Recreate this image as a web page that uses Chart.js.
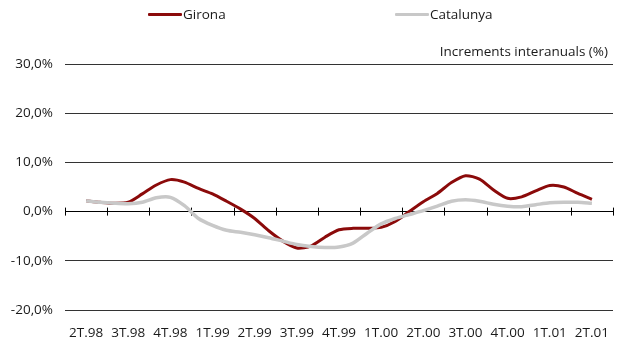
<!DOCTYPE html>
<html>
<head>
<meta charset="utf-8">
<script src="https://cdn.jsdelivr.net/npm/chart.js@4/dist/chart.umd.min.js"></script>
<style>
  body { margin: 0; background: #fff; }
  #wrap { position: relative; width: 625px; height: 340px; font-family: "Open Sans", sans-serif; color: #1a1a1a; }
  canvas { position: absolute; left: 0; top: 0; }
  .key { position: absolute; top: 5px; font-size: 13.5px; line-height: 18px; }
  .key i { position: absolute; top: 8px; height: 3px; width: 34px; border-radius: 1px; }
  .key span { position: absolute; white-space: nowrap; }
  #unit { position: absolute; right: 17px; top: 42px; font-size: 13.5px; line-height: 18px; white-space: nowrap; }
</style>
</head>
<body>
<div id="wrap">
  <canvas id="chart" width="625" height="340"></canvas>
  <div class="key" style="left:148px"><i style="left:0;background:#8b0a0a"></i><span style="left:35px">Girona</span></div>
  <div class="key" style="left:395px"><i style="left:0;background:#c8c8c8"></i><span style="left:35px">Catalunya</span></div>
  <div id="unit">Increments interanuals (%)</div>
</div>
<script>
// Quarter labels on the x axis
const quarters = ["2T.98", "3T.98", "4T.98", "1T.99", "2T.99", "3T.99", "4T.99",
                  "1T.00", "2T.00", "3T.00", "4T.00", "1T.01", "2T.01"];

// Monthly year-on-year growth (%), one value per month from the middle of 2T.98
const girona = [2.2, 1.9, 1.7, 1.9, 3.6, 5.4, 6.5, 6.0, 4.7, 3.6, 2.1, 0.5, -1.4,
                -3.9, -6.0, -7.4, -7.0, -5.2, -3.7, -3.4, -3.4, -3.2, -2.0, 0.0,
                2.0, 3.7, 5.9, 7.3, 6.6, 4.4, 2.7, 3.0, 4.2, 5.3, 5.0, 3.7, 2.5];
const catalunya = [2.2, 1.9, 1.7, 1.6, 1.9, 2.8, 2.9, 1.2, -1.4, -2.8, -3.8, -4.2, -4.7,
                   -5.3, -6.0, -6.7, -7.1, -7.3, -7.2, -6.4, -4.4, -2.5, -1.4, -0.6,
                   0.2, 1.1, 2.1, 2.4, 2.1, 1.5, 1.1, 1.0, 1.4, 1.8, 1.9, 1.9, 1.7];

const yTicks = [-20, -10, 0, 10, 20, 30];

const FONT = { family: "'Open Sans', sans-serif", size: 13.5 };

const toPoints = arr => arr.map((v, i) => ({ x: i, y: v }));

// small tick marks crossing the zero line at each quarter boundary
const zeroTicks = {
  id: "zeroTicks",
  beforeDatasetsDraw(chart) {
    const { ctx, scales: { x, y } } = chart;
    const y0 = y.getPixelForValue(0);
    ctx.save();
    ctx.strokeStyle = "#000";
    ctx.lineWidth = 1;
    for (let q = 0; q <= quarters.length; q++) {
      const px = Math.round(x.getPixelForValue(q * 3 - 1.5)) + 0.5;
      ctx.beginPath();
      ctx.moveTo(px, y0 - 4);
      ctx.lineTo(px, y0 + 4);
      ctx.stroke();
    }
    ctx.restore();
  },
};

new Chart(document.getElementById("chart"), {
  type: "line",
  data: {
    datasets: [
      {
        label: "Girona",
        data: toPoints(girona),
        borderColor: "#8b0a0a",
        borderWidth: 3,
        pointRadius: 0,
        tension: 0.25,
        order: 1,
      },
      {
        label: "Catalunya",
        data: toPoints(catalunya),
        borderColor: "#c8c8c8",
        borderWidth: 3.5,
        pointRadius: 0,
        tension: 0.25,
        order: 0,
      },
    ],
  },
  options: {
    responsive: false,
    animation: false,
    layout: { padding: { top: 64, right: 12, left: 0, bottom: 0 } },
    plugins: { legend: { display: false }, tooltip: { enabled: false } },
    scales: {
      x: {
        type: "linear",
        min: -1.5,
        max: quarters.length * 3 - 1.5,
        afterBuildTicks: s => { s.ticks = quarters.map((q, i) => ({ value: i * 3 })); },
        afterFit: s => { s.height = 30; },
        grid: { display: false },
        border: { display: false },
        ticks: {
          color: "#1a1a1a",
          font: FONT,
          padding: 7,
          maxRotation: 0,
          autoSkip: false,
          callback: (v, i) => quarters[i],
        },
      },
      y: {
        min: -20,
        max: 30,
        afterBuildTicks: s => { s.ticks = yTicks.map(v => ({ value: v })); },
        afterFit: s => { s.width = 65; },
        grid: {
          color: c => (c.tick.value === 0 ? "#000" : "#333"),
          lineWidth: 1,
          drawTicks: false,
        },
        border: { display: false },
        ticks: {
          color: "#1a1a1a",
          font: FONT,
          padding: 12,
          callback: v => v.toFixed(1).replace(".", ",") + "%",
        },
      },
    },
  },
  plugins: [zeroTicks],
});
</script>
</body>
</html>
